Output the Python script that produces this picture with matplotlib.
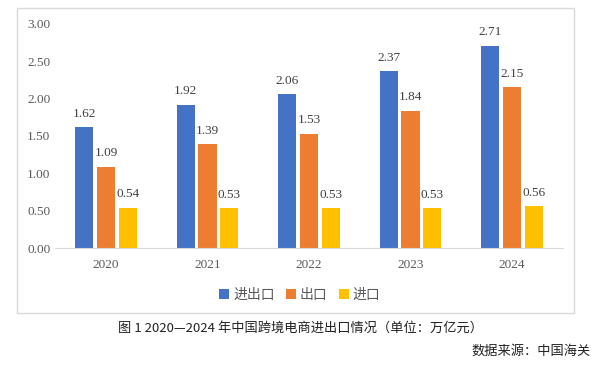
import matplotlib.pyplot as plt
import numpy as np
from matplotlib.patches import Rectangle

plt.rcParams['font.family'] = ['Liberation Serif', 'Noto Sans CJK SC']

years = ['2020', '2021', '2022', '2023', '2024']
total = [1.62, 1.92, 2.06, 2.37, 2.71]
export = [1.09, 1.39, 1.53, 1.84, 2.15]
imports = [0.54, 0.53, 0.53, 0.53, 0.56]
series_names = ['进出口', '出口', '进口']
colors = ['#4472C4', '#ED7D31', '#FFC000']

fig = plt.figure(figsize=(6, 3.68), dpi=100)
ax = fig.add_axes([0.092, 0.326, 0.846, 0.609])

x = np.arange(len(years))
w = 0.18
gap = 0.035
for i, (vals, name, c) in enumerate(zip([total, export, imports], series_names, colors)):
    pos = x + (i - 1) * (w + gap)
    ax.bar(pos, vals, width=w, color=c, label=name)
    for p, v in zip(pos, vals):
        ax.text(p, v + 0.1, f'{v:.2f}', ha='center', va='bottom', fontsize=9.5,
                color='#404040', family='Liberation Serif')

ax.set_xlim(-0.5, 4.5)
ax.set_ylim(0, 3.0)
ax.set_yticks(np.arange(0, 3.01, 0.5))
ax.set_yticklabels([f'{t:.2f}' for t in np.arange(0, 3.01, 0.5)])
ax.set_xticks(x)
ax.set_xticklabels(years)
ax.tick_params(length=0, labelsize=9.5, labelcolor='#595959')
ax.tick_params(axis='x', pad=8)
for s in ['top', 'right', 'left']:
    ax.spines[s].set_visible(False)
ax.spines['bottom'].set_color('#d9d9d9')

leg = fig.legend(loc='center', bbox_to_anchor=(0.5, 0.198), ncol=3, frameon=False,
                 fontsize=10, handlelength=0.7, handleheight=0.7, handletextpad=0.3,
                 columnspacing=0.8, prop={'family': 'Noto Sans CJK SC', 'size': 10})
for t in leg.get_texts():
    t.set_color('#595959')

fig.patches.append(Rectangle((17 / 600, 1 - 313 / 368), 557 / 600, 305 / 368,
                             transform=fig.transFigure, fill=False,
                             edgecolor='#d9d9d9', linewidth=1))

fig.text(0.5, 1 - 328 / 368, '图 1 2020—2024 年中国跨境电商进出口情况（单位：万亿元）',
         ha='center', va='center', fontsize=9.5, family=['Noto Sans CJK SC'], color='#222222')
fig.text(0.985, 1 - 351 / 368, '数据来源：中国海关', ha='right', va='center',
         fontsize=9.5, family=['Noto Sans CJK SC'], color='#222222')

fig.savefig('out.png', dpi=100)
